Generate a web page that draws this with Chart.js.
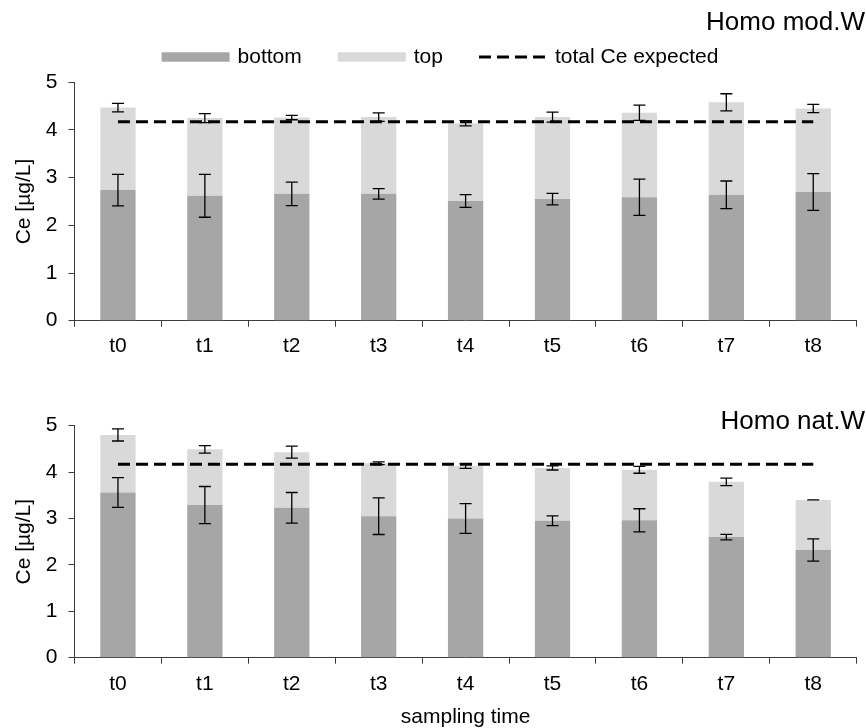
<!DOCTYPE html>
<html>
<head>
<meta charset="utf-8">
<script src="https://cdn.jsdelivr.net/npm/chart.js@4.4.1/dist/chart.umd.min.js"></script>
<style>
  html, body { margin: 0; padding: 0; background: #fff; overflow: hidden; }
  #wrap { position: relative; width: 866px; height: 728px; }
  canvas { position: absolute; left: 0; display: block; }
  #c1 { top: 0; }
  #c2 { top: 365px; }
</style>
</head>
<body>
<div id="wrap">
  <canvas id="c1" width="866" height="365"></canvas>
  <canvas id="c2" width="866" height="363"></canvas>
</div>
<script>
// Sampling times on the x axis
const categories = ['t0', 't1', 't2', 't3', 't4', 't5', 't6', 't7', 't8'];
const yTickValues = [0, 1, 2, 3, 4, 5];
const expectedCe = 4.17;

// Homo mod.W: Ce in the bottom layer and in the top layer (µg/L), with error bars
const modBottom    = [2.74, 2.62, 2.66, 2.66, 2.51, 2.55, 2.59, 2.64, 2.70];
const modTop       = [1.73, 1.63, 1.60, 1.61, 1.63, 1.72, 1.77, 1.94, 1.75];
const modBottomErr = [0.33, 0.45, 0.245, 0.11, 0.135, 0.12, 0.38, 0.29, 0.385];
const modTopErr    = [0.09, 0.095, 0.045, 0.09, 0.055, 0.105, 0.16, 0.18, 0.085];

// Homo nat.W
const natBottom    = [3.56, 3.29, 3.23, 3.05, 3.00, 2.95, 2.96, 2.60, 2.32];
const natTop       = [1.24, 1.20, 1.20, 1.14, 1.13, 1.14, 1.09, 1.19, 1.08];
const natBottomErr = [0.32, 0.40, 0.33, 0.395, 0.32, 0.105, 0.25, 0.06, 0.24];
const natTopErr    = [0.13, 0.08, 0.13, 0.03, 0.05, 0.045, 0.075, 0.08, 0.0];

const FONT = "'Liberation Sans', Arial, Helvetica, sans-serif";
const AXIS = '#3c3c3c';
const BOTTOM_COLOR = '#a6a6a6';
const TOP_COLOR = '#d9d9d9';
const DASH = [12, 6];

Chart.defaults.font.family = FONT;
Chart.defaults.font.size = 21;
Chart.defaults.color = '#000';
Chart.defaults.animation = false;

// Vertical error bars centred on the upper end of each stacked segment
const errorBars = {
  id: 'errorBars',
  afterDatasetDraw(chart, args) {
    const ds = chart.data.datasets[args.index];
    if (!ds.errors) return;
    const y = chart.scales.y;
    const ctx = chart.ctx;
    ctx.save();
    ctx.strokeStyle = '#000';
    ctx.lineWidth = 1.3;
    args.meta.data.forEach((bar, i) => {
      const v = ds.ends[i];
      const e = ds.errors[i];
      const yHi = y.getPixelForValue(v + e);
      const yLo = y.getPixelForValue(v - e);
      const x = bar.x;
      ctx.beginPath();
      ctx.moveTo(x, yHi); ctx.lineTo(x, yLo);
      ctx.moveTo(x - 6, yHi); ctx.lineTo(x + 6, yHi);
      ctx.moveTo(x - 6, yLo); ctx.lineTo(x + 6, yLo);
      ctx.stroke();
    });
    ctx.restore();
  }
};

// Panel heading at the top right
const panelTitle = {
  id: 'panelTitle',
  afterDraw(chart, args, opts) {
    if (!opts.text) return;
    const ctx = chart.ctx;
    ctx.save();
    ctx.font = '26px ' + FONT;
    ctx.fillStyle = '#000';
    ctx.textAlign = 'right';
    ctx.textBaseline = 'middle';
    ctx.fillText(opts.text, opts.x, opts.y);
    ctx.restore();
  }
};

// One-row legend built from the datasets' own styles
const rowLegend = {
  id: 'rowLegend',
  afterDraw(chart, args, opts) {
    if (!opts.display) return;
    const ctx = chart.ctx;
    ctx.save();
    ctx.font = '21px ' + FONT;
    const items = chart.data.datasets.map(ds => ({
      text: ds.label,
      line: ds.type === 'line',
      color: ds.type === 'line' ? ds.borderColor : ds.backgroundColor,
      width: ctx.measureText(ds.label).width
    }));
    const sw = 68, gap = 8, between = 36;
    let total = 0;
    items.forEach((it, i) => { total += sw + gap + it.width + (i ? between : 0); });
    let x = opts.centerX - total / 2;
    const y = opts.y;
    items.forEach(it => {
      if (it.line) {
        ctx.strokeStyle = it.color;
        ctx.lineWidth = 3;
        ctx.setLineDash(DASH);
        ctx.beginPath();
        ctx.moveTo(x, y); ctx.lineTo(x + sw, y);
        ctx.stroke();
        ctx.setLineDash([]);
      } else {
        ctx.fillStyle = it.color;
        ctx.fillRect(x, y - 4.7, sw, 9.4);
      }
      ctx.fillStyle = '#000';
      ctx.textAlign = 'left';
      ctx.textBaseline = 'middle';
      ctx.fillText(it.text, x + sw + gap, y);
      x += sw + gap + it.width + between;
    });
    ctx.restore();
  }
};

function makePanel(canvasId, cfg) {
  const totals = cfg.bottom.map((b, i) => b + cfg.top[i]);
  return new Chart(document.getElementById(canvasId), {
    type: 'bar',
    data: {
      labels: categories,
      datasets: [
        {
          label: 'bottom',
          data: cfg.bottom,
          backgroundColor: BOTTOM_COLOR,
          stack: 'ce',
          order: 1,
          errors: cfg.bottomErr,
          ends: cfg.bottom
        },
        {
          label: 'top',
          data: cfg.top,
          backgroundColor: TOP_COLOR,
          stack: 'ce',
          order: 2,
          errors: cfg.topErr,
          ends: totals
        },
        {
          type: 'line',
          label: 'total Ce expected',
          data: categories.map(() => expectedCe),
          borderColor: '#000',
          borderWidth: 3,
          borderDash: DASH,
          pointRadius: 0,
          fill: false,
          stack: 'expected',
          order: 0
        }
      ]
    },
    options: {
      responsive: false,
      maintainAspectRatio: false,
      animation: false,
      datasets: { bar: { categoryPercentage: 1, barPercentage: 0.406 } },
      layout: { padding: { top: cfg.padTop, left: 0, right: 9.3, bottom: 0 } },
      plugins: {
        legend: { display: false },
        title: { display: false },
        tooltip: { enabled: false },
        panelTitle: { text: cfg.title, x: 865, y: cfg.titleY },
        rowLegend: { display: cfg.legend, centerX: 440, y: 57 }
      },
      scales: {
        x: {
          stacked: true,
          grid: { display: true, offset: true, drawOnChartArea: false, drawTicks: true, tickLength: 6, color: AXIS, lineWidth: 1 },
          border: { display: true, color: AXIS, width: 1 },
          ticks: { padding: cfg.xPad, color: '#000', font: { size: 21 } },
          title: { display: !!cfg.xTitle, text: cfg.xTitle || '', color: '#000', font: { size: 21, lineHeight: 1 }, padding: 0 },
          afterFit(s) { s.height = cfg.xHeight; }
        },
        y: {
          stacked: true,
          min: yTickValues[0],
          max: yTickValues[yTickValues.length - 1],
          afterBuildTicks(s) { s.ticks = yTickValues.map(v => ({ value: v })); },
          grid: { display: true, drawOnChartArea: false, drawTicks: true, tickLength: 6, color: AXIS, lineWidth: 1 },
          border: { display: true, color: AXIS, width: 1 },
          ticks: { padding: 11, color: '#000', font: { size: 21 } },
          title: { display: true, text: 'Ce [µg/L]', color: '#000', font: { size: 21, lineHeight: 1.2 }, padding: { top: 11.4, bottom: 0 } },
          afterFit(s) { s.width = 74.5; }
        }
      }
    },
    plugins: [errorBars, panelTitle, rowLegend]
  });
}

makePanel('c1', {
  bottom: modBottom, top: modTop, bottomErr: modBottomErr, topErr: modTopErr,
  title: 'Homo mod.W', titleY: 22.8, legend: true,
  padTop: 82.3, xHeight: 365 - 320.7, xPad: 7
});

makePanel('c2', {
  bottom: natBottom, top: natTop, bottomErr: natBottomErr, topErr: natTopErr,
  title: 'Homo nat.W', titleY: 57, legend: false,
  padTop: 60.7, xHeight: 363 - 292.7, xTitle: 'sampling time', xPad: 8
});
</script>
</body>
</html>
